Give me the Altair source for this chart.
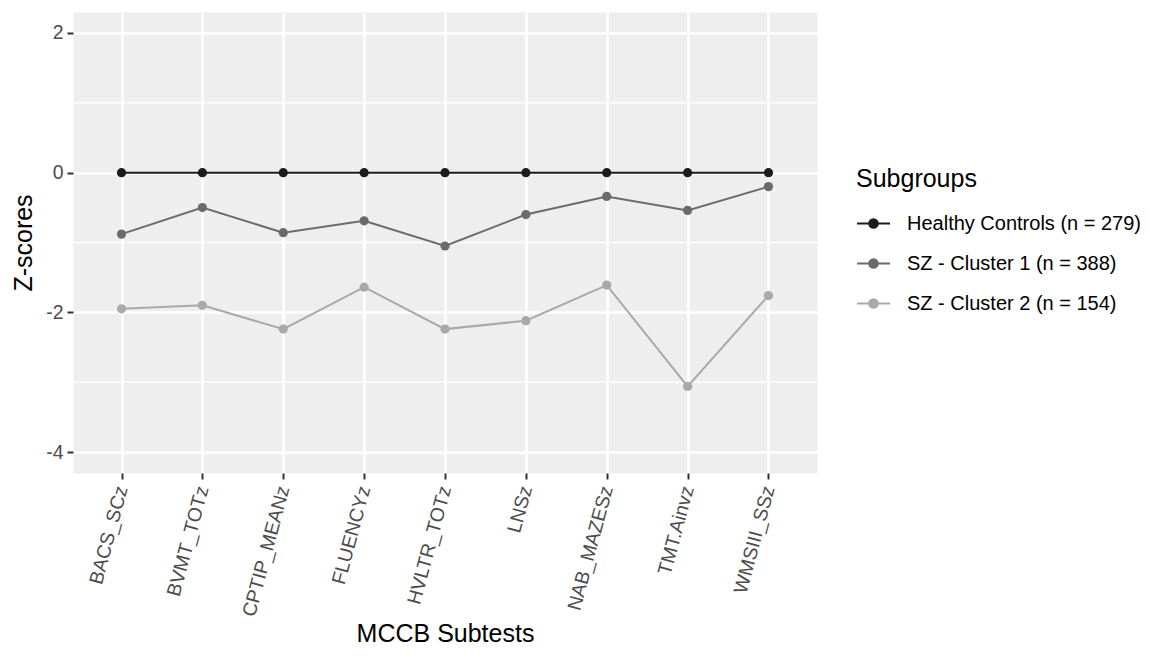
import altair as alt
import pandas as pd

subtests = ["BACS_SCz", "BVMT_TOTz", "CPTIP_MEANz", "FLUENCYz", "HVLTR_TOTz",
            "LNSz", "NAB_MAZESz", "TMT.Ainvz", "WMSIII_SSz"]
groups = ["Healthy Controls (n = 279)", "SZ - Cluster 1 (n = 388)", "SZ - Cluster 2 (n = 154)"]
healthy = [0.0, 0.0, 0.0, 0.0, 0.0, 0.0, 0.0, 0.0, 0.0]
cluster1 = [-0.88, -0.50, -0.86, -0.69, -1.05, -0.60, -0.34, -0.54, -0.20]
cluster2 = [-1.95, -1.90, -2.24, -1.64, -2.24, -2.12, -1.61, -3.06, -1.76]
colors = ["#1c1c1c", "#6b6b6b", "#a9a9a9"]
minor_y = [1, -1, -3]
major_y = [-4, -2, 0, 2]

rows = []
for g, vals in zip(groups, [healthy, cluster1, cluster2]):
    for s, v in zip(subtests, vals):
        rows.append({"subtest": s, "group": g, "z": v})
df = pd.DataFrame(rows)
minor_df = pd.DataFrame({"y": minor_y})

FONT = "Liberation Sans"

# legend glyph: a line with a (stroked-to-look-filled) dot, in unit coords
half = 16.5
def circ(rpx):
    r = rpx / half
    return f"M{-r:.3f},0A{r:.3f},{r:.3f} 0 1 1 {r:.3f},0A{r:.3f},{r:.3f} 0 1 1 {-r:.3f},0"
legend_path = "M-1,0L1,0" + "".join(circ(r) for r in (0.8, 2.2, 3.6, 4.3))

x_enc = alt.X("subtest:N", sort=subtests, title="MCCB Subtests",
              scale=alt.Scale(type="point", padding=0.6),
              axis=alt.Axis(labelAngle=-75, labelAlign="right", labelBaseline="middle",
                            labelPadding=7, tickSize=6, tickWidth=2, tickColor="#333333",
                            domain=False, grid=True, gridColor="white", gridWidth=2.6,
                            labelColor="#4d4d4d", labelFontSize=19.5, labelFont=FONT,
                            titleFontSize=25, titleFont=FONT, titleFontWeight="normal",
                            titleColor="black", titleY=168, titleBaseline="alphabetic"))
y_scale = alt.Scale(domain=[-4.3, 2.3], nice=False, zero=False)
y_enc = alt.Y("z:Q", title="Z-scores", scale=y_scale,
              axis=alt.Axis(values=major_y, labelExpr="toString(datum.value)",
                            tickSize=6, tickWidth=2, tickColor="#333333",
                            domain=False, grid=True, gridColor="white", gridWidth=2.6,
                            labelColor="#4d4d4d", labelFontSize=19.5, labelFont=FONT,
                            labelPadding=4,
                            titleFontSize=25, titleFont=FONT, titleFontWeight="normal",
                            titleColor="black", titlePadding=9))

color_enc = alt.Color("group:N", sort=groups, title="Subgroups",
                      scale=alt.Scale(domain=groups, range=colors),
                      legend=alt.Legend(orient="none", legendX=783, legendY=155,
                                        symbolType=legend_path, symbolSize=1089,
                                        symbolStrokeWidth=2, labelOffset=16, rowPadding=12,
                                        labelFontSize=20, labelFont=FONT, labelColor="black",
                                        labelLimit=400,
                                        titleFontSize=25, titleFont=FONT, titleFontWeight="normal",
                                        titleColor="black", titlePadding=14))

minor = alt.Chart(minor_df).mark_rule(color="white", strokeWidth=1.3).encode(
    y=alt.Y("y:Q", scale=y_scale)
)
lines = alt.Chart(df).mark_line(strokeWidth=2).encode(x=x_enc, y=y_enc, color=color_enc)
points = alt.Chart(df).mark_circle(size=85, opacity=1).encode(
    x=alt.X("subtest:N", sort=subtests), y=alt.Y("z:Q", scale=y_scale),
    color=alt.Color("group:N", sort=groups, scale=alt.Scale(domain=groups, range=colors), legend=None))

chart = alt.layer(minor, lines, points).properties(
    width=744, height=461,
    autosize=alt.AutoSizeParams(type="none"),
    padding={"left": 65, "top": 4, "right": 325, "bottom": 175},
    background="white",
).configure_view(fill="#eeeeee", stroke="transparent")

chart.save("out.html", embed_options={"renderer": "svg", "actions": False})
